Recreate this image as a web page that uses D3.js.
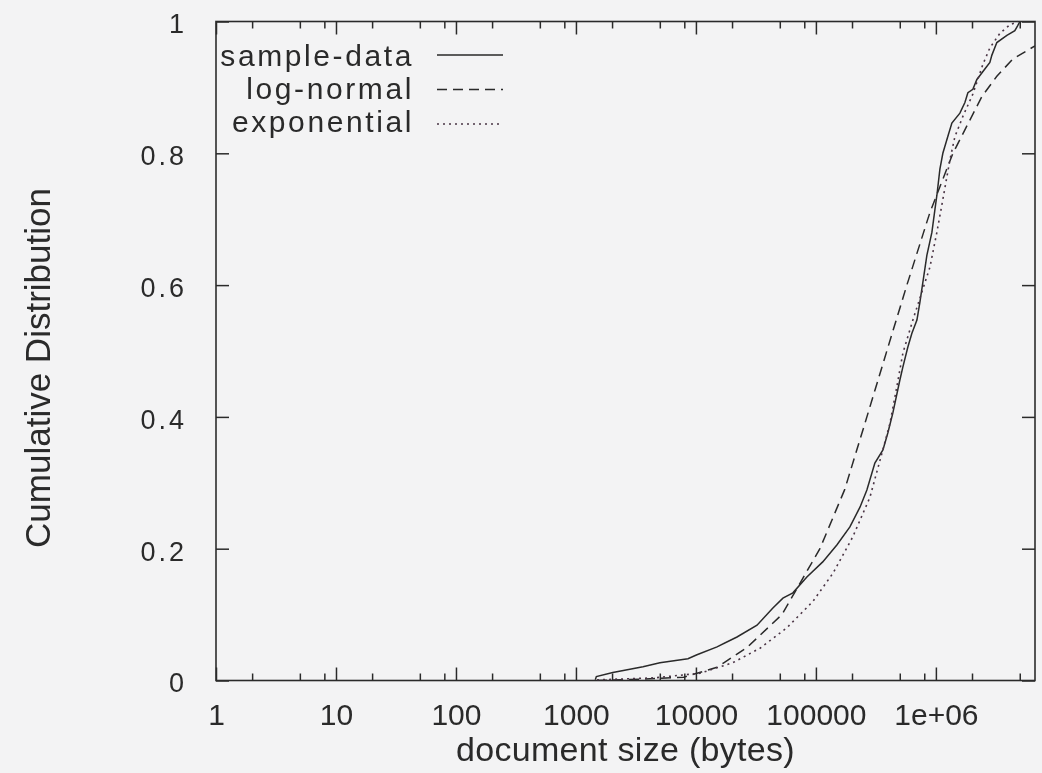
<!DOCTYPE html>
<html>
<head>
<meta charset="utf-8">
<script src="https://cdn.jsdelivr.net/npm/d3@7"></script>
<style>
  html, body { margin: 0; padding: 0; background: #f3f3f4; }
  svg { display: block; }
  text { font-family: "Liberation Sans", Arial, Helvetica, sans-serif; fill: #2a2a2a; }
</style>
</head>
<body>
<svg id="chart" width="1042" height="773"></svg>
<script>
// Empirical distribution of document sizes
const sampleSize = [1450, 1480, 2030, 3620, 5010, 8580, 10200, 15000, 22000, 32300, 43800,
  53100, 64300, 84100, 114000, 150000, 192000, 233000, 266000, 310000, 362000,
  398000, 438000, 501000, 531000, 584000, 631000, 695000, 736000, 841000, 926000,
  982000, 1019000, 1080000, 1143000, 1259000, 1359000, 1585000, 1745000, 1848000, 2033000,
  2196000, 2559000, 2818000, 2929000, 3221000, 3906000, 4550000, 4822000, 5012000];
const sampleCdf = [0.001, 0.006, 0.012, 0.021, 0.027, 0.033, 0.039, 0.051, 0.066, 0.084, 0.110,
  0.125, 0.133, 0.157, 0.180, 0.206, 0.233, 0.263, 0.289, 0.330, 0.350,
  0.376, 0.406, 0.456, 0.476, 0.506, 0.527, 0.547, 0.574, 0.645, 0.680,
  0.715, 0.736, 0.776, 0.800, 0.826, 0.846, 0.861, 0.877, 0.892, 0.897,
  0.912, 0.928, 0.938, 0.949, 0.968, 0.979, 0.986, 0.994, 1.0];

// Fitted log-normal distribution
const lognSize = [1500, 3400, 7900, 15000, 26600, 52100, 108000, 174000, 266000, 390000,
  573000, 891000, 1386000, 2415000, 3220000, 4380000, 6700000];
const lognCdf = [0.0, 0.002, 0.005, 0.02, 0.05, 0.10, 0.20, 0.29, 0.40, 0.50,
  0.60, 0.71, 0.80, 0.886, 0.917, 0.943, 0.963];

// Fitted exponential distribution
const expSize = [1500, 4500, 10800, 20300, 34200, 57300, 94400, 139000, 203000, 282000,
  342000, 414000, 473000, 531000, 643000, 891000, 1019000, 1143000, 1309000, 1439000,
  1679000, 2033000, 2465000, 2818000, 3415000, 4138000, 4820000];
const expCdf = [0.001, 0.004, 0.011, 0.027, 0.049, 0.08, 0.12, 0.163, 0.218, 0.278,
  0.334, 0.39, 0.446, 0.497, 0.547, 0.627, 0.68, 0.73, 0.79, 0.825,
  0.856, 0.89, 0.935, 0.96, 0.982, 0.995, 1.0];

const seriesNames = ["sample-data", "log-normal", "exponential"];

const xTickValues = [1, 10, 100, 1000, 10000, 100000, 1000000];
const xTickLabels = ["1", "10", "100", "1000", "10000", "100000", "1e+06"];
const xMinorFactors = [2, 5, 8];
const yTickValues = [0, 0.2, 0.4, 0.6, 0.8, 1];
const yTickLabels = ["0", "0.2", "0.4", "0.6", "0.8", "1"];

const xDomain = [1, 6.7e6];
const yDomain = [0, 1];

(function draw() {
  const svg = d3.select("#chart");
  const plotL = 216, plotR = 1035, plotT = 21.5, plotB = 680.5;
  const ink = "#2b2b2b";

  const x = d3.scaleLog().domain(xDomain).range([plotL, plotR]);
  const y = d3.scaleLinear().domain(yDomain).range([plotB, plotT]);

  const defs = svg.append("defs");
  defs.append("filter").attr("id", "soft")
    .append("feGaussianBlur").attr("stdDeviation", 0.45);
  defs.append("clipPath").attr("id", "plotclip")
    .append("rect").attr("x", plotL).attr("y", plotT - 2)
    .attr("width", plotR - plotL).attr("height", plotB - plotT + 2);

  const root = svg.append("g").attr("filter", "url(#soft)");

  // minor ticks at 2, 5, 8 within each decade
  const xMinor = [];
  xTickValues.forEach(d => xMinorFactors.forEach(f => {
    const v = d * f;
    if (v <= xDomain[1]) xMinor.push(v);
  }));

  function styleAxis(g) {
    g.select(".domain").remove();
    g.selectAll(".tick line").attr("stroke", ink).attr("stroke-width", 1.5);
  }

  // bottom axis with labels
  root.append("g").attr("transform", `translate(0,${plotB})`)
    .call(d3.axisBottom(x).tickValues(xTickValues).tickSize(-13).tickSizeOuter(0)
      .tickPadding(23).tickFormat((d, i) => xTickLabels[i]))
    .call(styleAxis)
    .call(g => g.selectAll(".tick text").attr("font-size", 30).attr("fill", "#2a2a2a")
      .attr("font-family", "Liberation Sans, Arial, sans-serif"));
  root.append("g").attr("transform", `translate(0,${plotB})`)
    .call(d3.axisBottom(x).tickValues(xMinor).tickSize(-7).tickSizeOuter(0).tickFormat(""))
    .call(styleAxis);

  // top mirror ticks
  root.append("g").attr("transform", `translate(0,${plotT})`)
    .call(d3.axisTop(x).tickValues(xTickValues).tickSize(-13).tickSizeOuter(0).tickFormat(""))
    .call(styleAxis);
  root.append("g").attr("transform", `translate(0,${plotT})`)
    .call(d3.axisTop(x).tickValues(xMinor).tickSize(-7).tickSizeOuter(0).tickFormat(""))
    .call(styleAxis);

  // left axis with labels
  root.append("g").attr("transform", `translate(${plotL},0)`)
    .call(d3.axisLeft(y).tickValues(yTickValues).tickSize(-13).tickSizeOuter(0)
      .tickPadding(29).tickFormat((d, i) => yTickLabels[i]))
    .call(styleAxis)
    .call(g => g.selectAll(".tick text").attr("font-size", 27).attr("fill", "#2a2a2a")
      .attr("letter-spacing", 3).attr("dy", "0.42em")
      .attr("font-family", "Liberation Sans, Arial, sans-serif"));

  // right mirror ticks
  root.append("g").attr("transform", `translate(${plotR},0)`)
    .call(d3.axisRight(y).tickValues(yTickValues).tickSize(-13).tickSizeOuter(0).tickFormat(""))
    .call(styleAxis);

  // frame
  root.append("rect")
    .attr("x", plotL).attr("y", plotT).attr("width", plotR - plotL).attr("height", plotB - plotT)
    .attr("fill", "none").attr("stroke", ink).attr("stroke-width", 1.6);

  // axis titles
  root.append("text")
    .attr("transform", `translate(50,368) rotate(-90)`)
    .attr("text-anchor", "middle").attr("font-size", 35)
    .text("Cumulative Distribution");
  root.append("text")
    .attr("x", (plotL + plotR) / 2).attr("y", 761)
    .attr("text-anchor", "middle").attr("font-size", 34).attr("letter-spacing", 0.3)
    .text("document size (bytes)");

  // curves
  const series = [
    { name: seriesNames[0], xs: sampleSize, ys: sampleCdf, dash: null, color: "#2a2a2a", w: 1.5 },
    { name: seriesNames[1], xs: lognSize, ys: lognCdf, dash: "10,6", color: "#2a2a2a", w: 1.5 },
    { name: seriesNames[2], xs: expSize, ys: expCdf, dash: "2,4", color: "#4a3444", w: 1.6 }
  ];

  const line = d3.line().x(d => x(d[0])).y(d => y(d[1]));
  const plot = root.append("g").attr("clip-path", "url(#plotclip)");
  series.forEach(s => {
    plot.append("path")
      .datum(d3.zip(s.xs, s.ys))
      .attr("d", line)
      .attr("fill", "none")
      .attr("stroke", s.color)
      .attr("stroke-width", s.w)
      .attr("stroke-dasharray", s.dash);
  });

  // legend
  const legendText = [66, 99, 132];
  const legendLine = [55, 89.5, 124];
  const legend = root.append("g");
  series.forEach((s, i) => {
    legend.append("text")
      .attr("x", 414).attr("y", legendText[i])
      .attr("text-anchor", "end").attr("font-size", 30).attr("letter-spacing", 2.6)
      .text(s.name);
    legend.append("line")
      .attr("x1", 437).attr("x2", 503)
      .attr("y1", legendLine[i]).attr("y2", legendLine[i])
      .attr("stroke", s.color).attr("stroke-width", s.w)
      .attr("stroke-dasharray", s.dash);
  });
})();
</script>
</body>
</html>
